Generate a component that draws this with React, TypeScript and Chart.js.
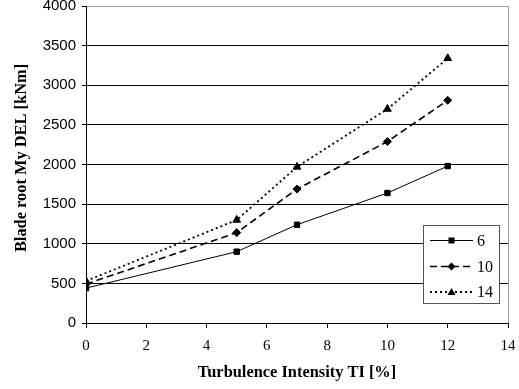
import React, { useEffect, useRef } from 'react';
import { Chart, registerables } from 'chart.js';

Chart.register(...registerables);

// Turbulence intensity TI [%]
const tiValues = [0, 5, 7, 10, 12];
// Blade root My DEL [kNm] per series (wind speed)
const seriesLabels = ['6', '10', '14'];
const series6 = [440, 900, 1240, 1640, 1980];
const series10 = [490, 1140, 1690, 2290, 2810];
const series14 = [530, 1300, 1970, 2700, 3340];

const xTitle = 'Turbulence Intensity TI [%]';
const yTitle = 'Blade root My DEL [kNm]';

const SERIF = '"Liberation Serif", "Times New Roman", serif';
const SANS = '"Liberation Sans", Arial, sans-serif';

const styles = [
  { width: 1, dash: [] as number[], point: 'rect', radius: 3.8 },
  { width: 1.6, dash: [7, 4], point: 'rectRot', radius: 4 },
  { width: 1.8, dash: [2, 3], point: 'triangle', radius: 4.5 },
];

function drawMarker(ctx: CanvasRenderingContext2D, kind: string, x: number, y: number) {
  ctx.beginPath();
  if (kind === 'rect') {
    ctx.rect(x - 3, y - 3, 6, 6);
  } else if (kind === 'rectRot') {
    ctx.moveTo(x, y - 4);
    ctx.lineTo(x + 4, y);
    ctx.lineTo(x, y + 4);
    ctx.lineTo(x - 4, y);
    ctx.closePath();
  } else {
    ctx.moveTo(x, y - 4);
    ctx.lineTo(x + 4, y + 3);
    ctx.lineTo(x - 4, y + 3);
    ctx.closePath();
  }
  ctx.fill();
}

const decorPlugin = {
  id: 'decor',
  afterDraw(chart: any) {
    const ctx: CanvasRenderingContext2D = chart.ctx;
    const area = chart.chartArea;
    ctx.save();
    // axis titles
    ctx.fillStyle = '#000';
    ctx.font = `bold 16.4px ${SERIF}`;
    ctx.textAlign = 'center';
    ctx.textBaseline = 'middle';
    ctx.fillText(xTitle, (area.left + area.right) / 2, 373);
    ctx.save();
    ctx.translate(22, 158);
    ctx.rotate(-Math.PI / 2);
    ctx.fillText(yTitle, 0, 0);
    ctx.restore();

    // legend
    const bx = 423.5, by = 225.5, bw = 76, bh = 78;
    ctx.fillStyle = '#fff';
    ctx.fillRect(bx, by, bw, bh);
    ctx.strokeStyle = '#555';
    ctx.lineWidth = 1;
    ctx.strokeRect(bx, by, bw, bh);
    const rows = [240.5, 266.5, 292];
    seriesLabels.forEach((lab, i) => {
      const st = styles[i];
      const y = rows[i];
      ctx.save();
      ctx.strokeStyle = '#000';
      ctx.lineWidth = st.width;
      ctx.setLineDash(st.dash);
      ctx.beginPath();
      ctx.moveTo(430, y);
      ctx.lineTo(473, y);
      ctx.stroke();
      ctx.restore();
      ctx.fillStyle = '#000';
      drawMarker(ctx, st.point, 451.5, y);
      ctx.font = `16px ${SERIF}`;
      ctx.textAlign = 'left';
      ctx.textBaseline = 'middle';
      ctx.fillText(lab, 477, y + 1);
    });
    ctx.restore();
  },
};

export default function App() {
  const ref = useRef<HTMLCanvasElement | null>(null);

  useEffect(() => {
    if (!ref.current) return;
    const all = [series6, series10, series14];
    const chart = new Chart(ref.current, {
      type: 'line',
      data: {
        datasets: all.map((vals, i) => ({
          label: seriesLabels[i],
          data: tiValues.map((x, j) => ({ x, y: vals[j] })),
          borderColor: '#000',
          backgroundColor: '#000',
          borderWidth: styles[i].width,
          borderDash: styles[i].dash,
          pointStyle: styles[i].point as any,
          pointRadius: styles[i].radius,
          pointBorderWidth: 1,
          pointBorderColor: '#000',
          pointBackgroundColor: '#000',
          tension: 0,
          fill: false,
        })),
      },
      options: {
        animation: false,
        responsive: false,
        maintainAspectRatio: false,
        devicePixelRatio: 1,
        layout: { padding: { left: 0, right: 11, top: 6, bottom: 0 } },
        plugins: {
          legend: { display: false },
          tooltip: { enabled: false },
          title: { display: false },
        },
        scales: {
          x: {
            type: 'linear',
            min: 0,
            max: 14,
            ticks: {
              stepSize: 2,
              color: '#000',
              font: { family: SERIF, size: 15 },
              padding: 9,
              maxRotation: 0,
              callback: (v: any) => String(v),
            },
            grid: {
              color: (c: any) => (c.tick && c.tick.value === 14 ? '#a0a0a0' : 'rgba(0,0,0,0)'),
              tickColor: '#000',
              tickLength: 5,
              lineWidth: 1,
            },
            border: { color: '#000', width: 1 },
            afterFit: (s: any) => {
              s.height = 66;
              s.paddingLeft = 0;
              s.paddingRight = 0;
            },
          },
          y: {
            type: 'linear',
            min: 0,
            max: 4000,
            ticks: {
              stepSize: 500,
              color: '#000',
              font: { family: SANS, size: 15 },
              padding: 6,
              callback: (v: any) => String(v),
            },
            grid: {
              color: (c: any) => (c.tick && c.tick.value === 4000 ? '#a0a0a0' : '#000'),
              tickColor: '#000',
              tickLength: 4,
              lineWidth: 1,
            },
            border: { color: '#000', width: 1 },
            afterFit: (s: any) => {
              s.width = 86;
              s.paddingTop = 0;
              s.paddingBottom = 0;
            },
          },
        },
      },
      plugins: [decorPlugin],
    });
    return () => chart.destroy();
  }, []);

  return (
    <div style={{ position: 'absolute', left: 0, top: 0, width: 519, height: 389, background: '#fff' }}>
      <canvas ref={ref} width={519} height={389} style={{ width: 519, height: 389, display: 'block' }} />
    </div>
  );
}
